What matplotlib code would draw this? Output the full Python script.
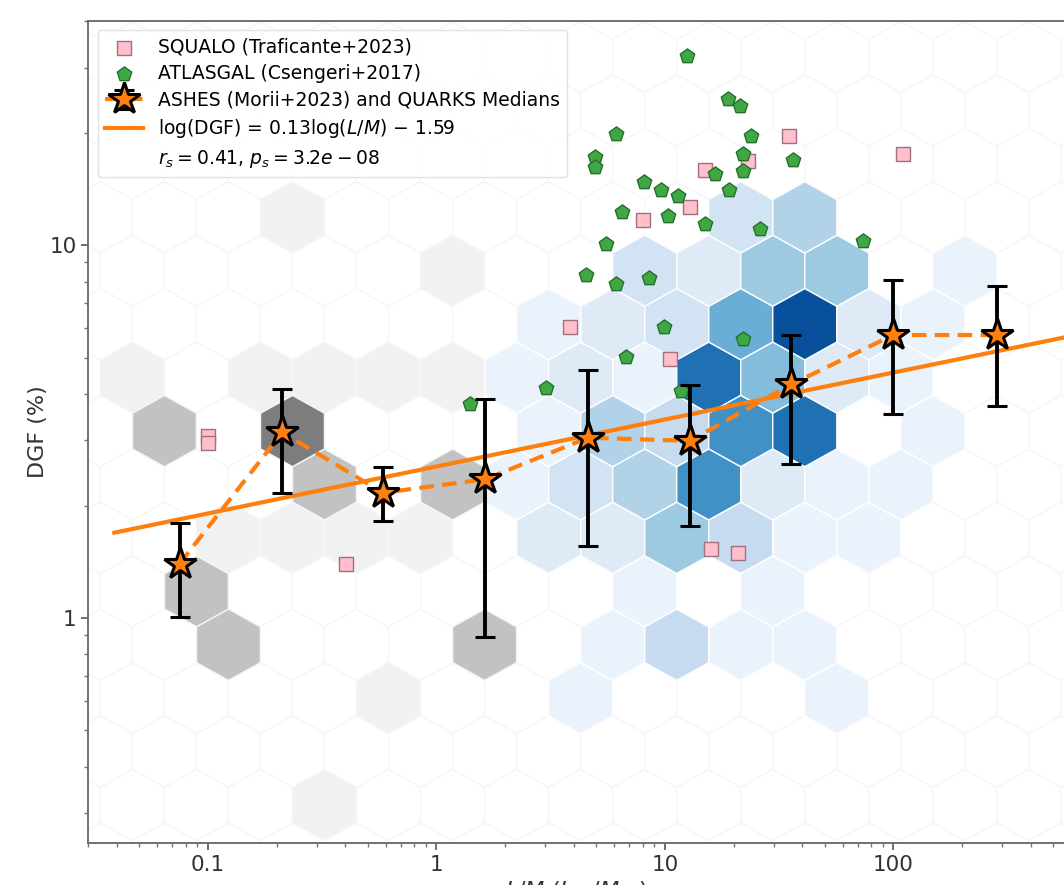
import numpy as np
import matplotlib
matplotlib.use('Agg')
import matplotlib.pyplot as plt
from matplotlib.ticker import FuncFormatter, NullFormatter

# ---- hexbin cells (ASHES, grey): L/M, DGF (%), number of cores
ashes_lm = [0.235, 1.178, 0.0468, 0.170, 0.324, 0.618, 1.178, 0.0646, 0.235,
            0.324, 1.178, 0.1232, 0.235, 0.448, 0.854, 0.0892, 0.1232, 1.627,
            0.618, 0.324]
ashes_dgf = [11.89, 8.55, 4.42, 4.42, 4.42, 4.42, 4.42, 3.178, 3.178,
             2.285, 2.285, 1.643, 1.643, 1.643, 1.643, 1.181, 0.849, 0.849,
             0.610, 0.3155]
ashes_n = [1, 1, 1, 1, 1, 1, 1, 3, 5,
           3, 3, 1, 1, 1, 1, 3, 3, 3,
           1, 1]

# ---- hexbin cells (QUARKS, blue)
quarks_lm = [21.49, 40.97,
             8.16, 15.56, 29.7, 56.6, 205.6,
             3.10, 5.91, 11.27, 21.49, 40.97, 78.1, 148.9,
             2.246, 4.28, 8.16, 15.56, 29.7, 56.6, 107.8,
             3.10, 5.91, 11.27, 21.49, 40.97, 148.9,
             2.246, 4.28, 8.16, 15.56, 29.7, 56.6, 107.8,
             3.10, 5.91, 11.27, 21.49, 40.97, 78.1,
             8.16, 29.7,
             5.91, 11.27, 21.49, 40.97,
             4.28, 56.6]
quarks_dgf = [11.89, 11.89,
              8.55, 8.55, 8.55, 8.55, 8.55,
              6.147, 6.147, 6.147, 6.147, 6.147, 6.147, 6.147,
              4.42, 4.42, 4.42, 4.42, 4.42, 4.42, 4.42,
              3.178, 3.178, 3.178, 3.178, 3.178, 3.178,
              2.285, 2.285, 2.285, 2.285, 2.285, 2.285, 2.285,
              1.643, 1.643, 1.643, 1.643, 1.643, 1.643,
              1.181, 1.181,
              0.849, 0.849, 0.849, 0.849,
              0.610, 0.610]
quarks_n = [3, 5,
            3, 2, 6, 6, 1,
            1, 2, 3, 8, 14, 2, 1,
            1, 2, 1, 12, 7, 2, 1,
            1, 5, 4, 10, 12, 1,
            1, 3, 5, 10, 2, 1, 1,
            2, 2, 6, 4, 1, 1,
            1, 1,
            1, 4, 1, 1,
            1, 1]

# ---- SQUALO (Traficante+2023)
squalo_lm = [0.1, 0.1, 0.401, 3.83, 8.03, 12.84, 14.95, 23.13, 35.0, 109.9,
             10.51, 16.0, 20.8]
squalo_dgf = [3.08, 2.96, 1.40, 6.04, 11.67, 12.69, 15.91, 16.82, 19.62, 17.55,
              4.95, 1.53, 1.50]

# ---- ATLASGAL (Csengeri+2017)
atlas_lm = [12.56, 18.98, 21.4, 6.14, 23.9, 4.93, 4.97, 22.0, 36.4, 16.5,
            22.0, 8.08, 9.63, 11.47, 19.0, 6.52, 10.33, 14.95, 26.0, 5.55,
            73.7, 4.51, 6.14, 8.50, 9.89, 22.0, 6.74, 3.03, 11.8, 1.40]
atlas_dgf = [32.3, 24.7, 23.6, 19.9, 19.6, 17.27, 16.2, 17.6, 17.0, 15.5,
             15.8, 14.8, 14.1, 13.6, 14.06, 12.3, 12.0, 11.45, 11.1, 10.06,
             10.3, 8.33, 7.86, 8.16, 6.04, 5.60, 5.02, 4.14, 4.06, 3.75]

# ---- ASHES + QUARKS medians with spread
med_lm = [0.0752, 0.212, 0.584, 1.64, 4.61, 12.85, 35.8, 99.8, 283]
med_dgf = [1.40, 3.15, 2.17, 2.36, 3.05, 2.99, 4.24, 5.75, 5.75]
med_hi = [1.80, 4.12, 2.55, 3.87, 4.63, 4.23, 5.74, 8.06, 7.78]
med_lo = [1.006, 2.17, 1.82, 0.889, 1.566, 1.77, 2.60, 3.53, 3.71]

# ---- fit: log(DGF) = a log(L/M) + b
fit_a = 0.126
fit_b = -1.593
fit_lm = np.array([0.039, 600])

orange = '#ff7f0e'

fig = plt.figure(figsize=(10.64, 8.85), dpi=100)
ax = fig.add_axes([0.083, 0.0478, 0.917, 0.9285])
ax.set_xscale('log')
ax.set_yscale('log')

# hex grid (log10 units)
hex_extent = (-1.6099, 2.8733, -0.7876, 1.7918)
ax.hexbin(ashes_lm, ashes_dgf, C=ashes_n, reduce_C_function=np.sum, mincnt=0,
          gridsize=(16, 9), extent=hex_extent, xscale='log', yscale='log',
          cmap='Greys', vmin=0, vmax=8.5, edgecolors='#f6f6f6', linewidths=1.0,
          zorder=1)
ax.hexbin(quarks_lm, quarks_dgf, C=quarks_n, reduce_C_function=np.sum, mincnt=1,
          gridsize=(16, 9), extent=hex_extent, xscale='log', yscale='log',
          cmap='Blues', vmin=0, vmax=16, edgecolors='white', linewidths=1.0,
          zorder=2)

sq = ax.scatter(squalo_lm, squalo_dgf, marker='s', s=115, facecolor='pink',
                edgecolor='#a07080', linewidth=1.0, zorder=4,
                label='SQUALO (Traficante+2023)')
pe = ax.scatter(atlas_lm, atlas_dgf, marker='p', s=120, facecolor='#3fa845',
                edgecolor='#23702a', linewidth=1.0, zorder=4,
                label='ATLASGAL (Csengeri+2017)')

fl, = ax.plot(fit_lm, 100 * 10**fit_b * fit_lm**fit_a, color=orange, lw=3,
              zorder=5, label='log(DGF) = 0.13log($L/M$) \u2212 1.59')

med_err = [np.array(med_dgf) - np.array(med_lo), np.array(med_hi) - np.array(med_dgf)]
eb = ax.errorbar(med_lm, med_dgf, yerr=med_err, fmt='*', ls='--', color=orange,
                 lw=3, dashes=(3.5, 2), ms=24, mfc=orange, mec='black', mew=2.2,
                 ecolor='black', elinewidth=2.8, capsize=7, capthick=2.8,
                 zorder=6, label='ASHES (Morii+2023) and QUARKS Medians')

blank, = ax.plot([], [], ' ', label='$r_s = 0.41$, $p_s = 3.2e-08$')

ax.set_xlim(0.03, 558)
ax.set_ylim(0.25, 40)

fmt = FuncFormatter(lambda v, p: '{:g}'.format(v))
ax.xaxis.set_major_formatter(fmt)
ax.yaxis.set_major_formatter(fmt)
ax.xaxis.set_minor_formatter(NullFormatter())
ax.yaxis.set_minor_formatter(NullFormatter())
ax.tick_params(which='major', labelsize=15.5, length=5, width=1.2,
               colors='#555555', labelcolor='#333333')
ax.tick_params(which='minor', length=3, width=1.0, colors='#777777')

for side in ['left', 'bottom', 'top']:
    ax.spines[side].set_color('#666666')
    ax.spines[side].set_linewidth(1.3)
ax.spines['right'].set_visible(False)

ax.set_ylabel('DGF (%)', fontsize=16, color='#333333', labelpad=1)
ax.set_xlabel(r'$L/M$ ($L_\odot/M_\odot$)', fontsize=16, color='#333333')

leg = ax.legend(handles=[sq, pe, eb, fl, blank], loc='upper left', fontsize=13.5,
                labelspacing=0.4, framealpha=0.85, edgecolor='#dddddd',
                borderaxespad=0.5)
leg.set_zorder(10)

fig.savefig('out.png', dpi=100)
